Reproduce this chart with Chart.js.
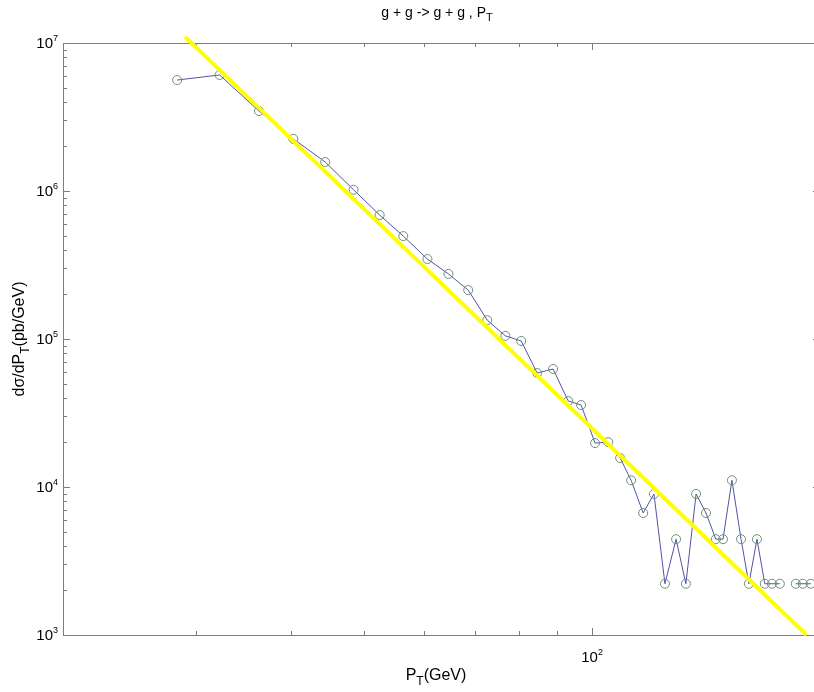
<!DOCTYPE html>
<html>
<head>
<meta charset="utf-8">
<title>g + g -> g + g, PT</title>
<script src="https://cdn.jsdelivr.net/npm/chart.js@4.4.1/dist/chart.umd.min.js"></script>
<style>
  html, body { margin: 0; padding: 0; background: #fff; overflow: hidden; }
  #wrap { width: 830px; height: 692px; }
</style>
</head>
<body>
<div id="wrap"><canvas id="ptChart" width="830" height="692"></canvas></div>
<script>
// transverse momentum bins (GeV)
const ptValues = [28.3, 32.2, 36.3, 40.3, 44.4, 48.4, 52.4, 56.3, 60.6, 64.6,
                  68.6, 72.7, 76.8, 80.6, 84.6, 88.8, 93.0, 96.7, 100.9, 105.0,
                  108.9, 112.6, 116.8, 120.7, 124.8, 129.1, 133.0, 137.2, 141.4, 145.7,
                  148.9, 153.0, 157.3, 161.1, 165.1, 169.1, 172.8, 177.0, 181.0, 185.8,
                  189.8, 194.5];
// dsigma/dPT (pb/GeV); null = empty bin, not drawn on the log axis
const xsecValues = [5.62e6, 6.08e6, 3.47e6, 2.25e6, 1.57e6, 1.02e6, 6.88e5, 4.96e5, 3.47e5, 2.75e5,
                    2.14e5, 1.34e5, 1.05e5, 9.7e4, 5.89e4, 6.27e4, 3.81e4, 3.58e4, 1.98e4, 2.01e4,
                    1.57e4, 1.11e4, 6.67e3, 8.97e3, 2.22e3, 4.44e3, 2.22e3, 8.97e3, 6.67e3, 4.44e3,
                    4.44e3, 1.11e4, 4.44e3, 2.22e3, 4.44e3, 2.22e3, 2.22e3, 2.22e3, null, 2.22e3,
                    2.22e3, 2.22e3];
// power-law fit, end points
const fitPt = [29.0, 192.0];
const fitXsec = [1.1e7, 1.0e3];

// axis limits and tick labels
const xRange = [20, 200];
const yRange = [1e3, 1e7];
const xMinorTicks = [30, 40, 50, 60, 70, 80, 90];
const xMajorExps = [2];
const yMajorExps = [3, 4, 5, 6, 7];

const FONT = '"Liberation Sans", Arial, Helvetica, sans-serif';

function powerLabel(ctx, exp, x, y, size, align) {
  ctx.font = size + 'px ' + FONT;
  const baseW = ctx.measureText('10').width;
  ctx.font = Math.round(size * 0.62) + 'px ' + FONT;
  const expW = ctx.measureText(String(exp)).width;
  const total = baseW + expW;
  let left = x;
  if (align === 'right') left = x - total;
  if (align === 'center') left = x - total / 2;
  ctx.textAlign = 'left';
  ctx.textBaseline = 'alphabetic';
  ctx.font = size + 'px ' + FONT;
  ctx.fillText('10', left, y);
  ctx.font = Math.round(size * 0.62) + 'px ' + FONT;
  ctx.fillText(String(exp), left + baseW, y - size * 0.45);
}

// text followed by a subscript and optional tail, e.g. P + T + (GeV)
function subText(ctx, head, sub, tail, x, y, size) {
  ctx.font = size + 'px ' + FONT;
  const w1 = ctx.measureText(head).width;
  ctx.font = Math.round(size * 0.75) + 'px ' + FONT;
  const w2 = ctx.measureText(sub).width;
  ctx.font = size + 'px ' + FONT;
  const w3 = ctx.measureText(tail).width;
  let left = x - (w1 + w2 + w3) / 2;
  ctx.textAlign = 'left';
  ctx.textBaseline = 'alphabetic';
  ctx.fillText(head, left, y);
  ctx.font = Math.round(size * 0.75) + 'px ' + FONT;
  ctx.fillText(sub, left + w1, y + size * 0.3);
  ctx.font = size + 'px ' + FONT;
  ctx.fillText(tail, left + w1 + w2, y);
}

const axesFrame = {
  id: 'axesFrame',
  beforeDatasetsDraw(chart) {
    const { ctx, chartArea: a, scales: { x, y } } = chart;
    ctx.save();
    ctx.strokeStyle = '#7d7d7d';
    ctx.lineWidth = 1;
    ctx.strokeRect(Math.round(a.left) + 0.5, Math.round(a.top) + 0.5,
                   Math.round(a.right - a.left), Math.round(a.bottom - a.top));

    ctx.beginPath();
    // y ticks, both sides, pointing inward
    yMajorExps.forEach(e => {
      for (let m = 1; m <= 9; m++) {
        const v = m * Math.pow(10, e);
        if (v < yRange[0] || v > yRange[1]) continue;
        const py = Math.round(y.getPixelForValue(v)) + 0.5;
        const len = m === 1 ? 7 : 4;
        ctx.moveTo(a.left, py); ctx.lineTo(a.left + len, py);
        ctx.moveTo(a.right, py); ctx.lineTo(a.right - len, py);
      }
    });
    // x ticks, top and bottom
    const xt = xMinorTicks.map(v => [v, 4]).concat(xMajorExps.map(e => [Math.pow(10, e), 7]));
    xt.forEach(([v, len]) => {
      const px = Math.round(x.getPixelForValue(v)) + 0.5;
      ctx.moveTo(px, a.bottom); ctx.lineTo(px, a.bottom - len);
      ctx.moveTo(px, a.top); ctx.lineTo(px, a.top + len);
    });
    ctx.stroke();

    ctx.fillStyle = '#000';
    yMajorExps.forEach(e => {
      const py = y.getPixelForValue(Math.pow(10, e));
      powerLabel(ctx, e, a.left - 5, py + 5, 15, 'right');
    });
    xMajorExps.forEach(e => {
      const px = x.getPixelForValue(Math.pow(10, e));
      powerLabel(ctx, e, px, a.bottom + 27, 15, 'center');
    });

    // axis titles and chart title
    subText(ctx, 'P', 'T', '(GeV)', 436, 680, 16);
    subText(ctx, 'g + g -> g + g , P', 'T', '', 437, 17, 14);
    ctx.save();
    ctx.translate(24, (a.top + a.bottom) / 2);
    ctx.rotate(-Math.PI / 2);
    subText(ctx, 'd\u03c3/dP', 'T', '(pb/GeV)', 0, 0, 16);
    ctx.restore();
    ctx.restore();
  }
};

new Chart(document.getElementById('ptChart'), {
  type: 'line',
  data: {
    datasets: [
      {
        label: 'fit',
        data: fitPt.map((p, i) => ({ x: p, y: fitXsec[i] })),
        borderColor: '#ffff00',
        borderWidth: 4,
        pointRadius: 0,
        clip: false,
        order: 0
      },
      {
        label: 'g + g -> g + g',
        data: ptValues.map((p, i) => ({ x: p, y: xsecValues[i] })),
        borderColor: '#5252a6',
        borderWidth: 1,
        pointRadius: 4.5,
        pointBorderColor: '#6e9173',
        pointBackgroundColor: 'rgba(0,0,0,0)',
        pointBorderWidth: 1,
        spanGaps: false,
        order: 1
      }
    ]
  },
  options: {
    responsive: false,
    animation: false,
    layout: { padding: { left: 63, top: 43, right: 10, bottom: 57 } },
    scales: {
      x: { type: 'logarithmic', min: xRange[0], max: xRange[1], display: false },
      y: { type: 'logarithmic', min: yRange[0], max: yRange[1], display: false }
    },
    plugins: {
      legend: { display: false },
      tooltip: { enabled: false },
      title: { display: false }
    }
  },
  plugins: [axesFrame]
});
</script>
</body>
</html>
